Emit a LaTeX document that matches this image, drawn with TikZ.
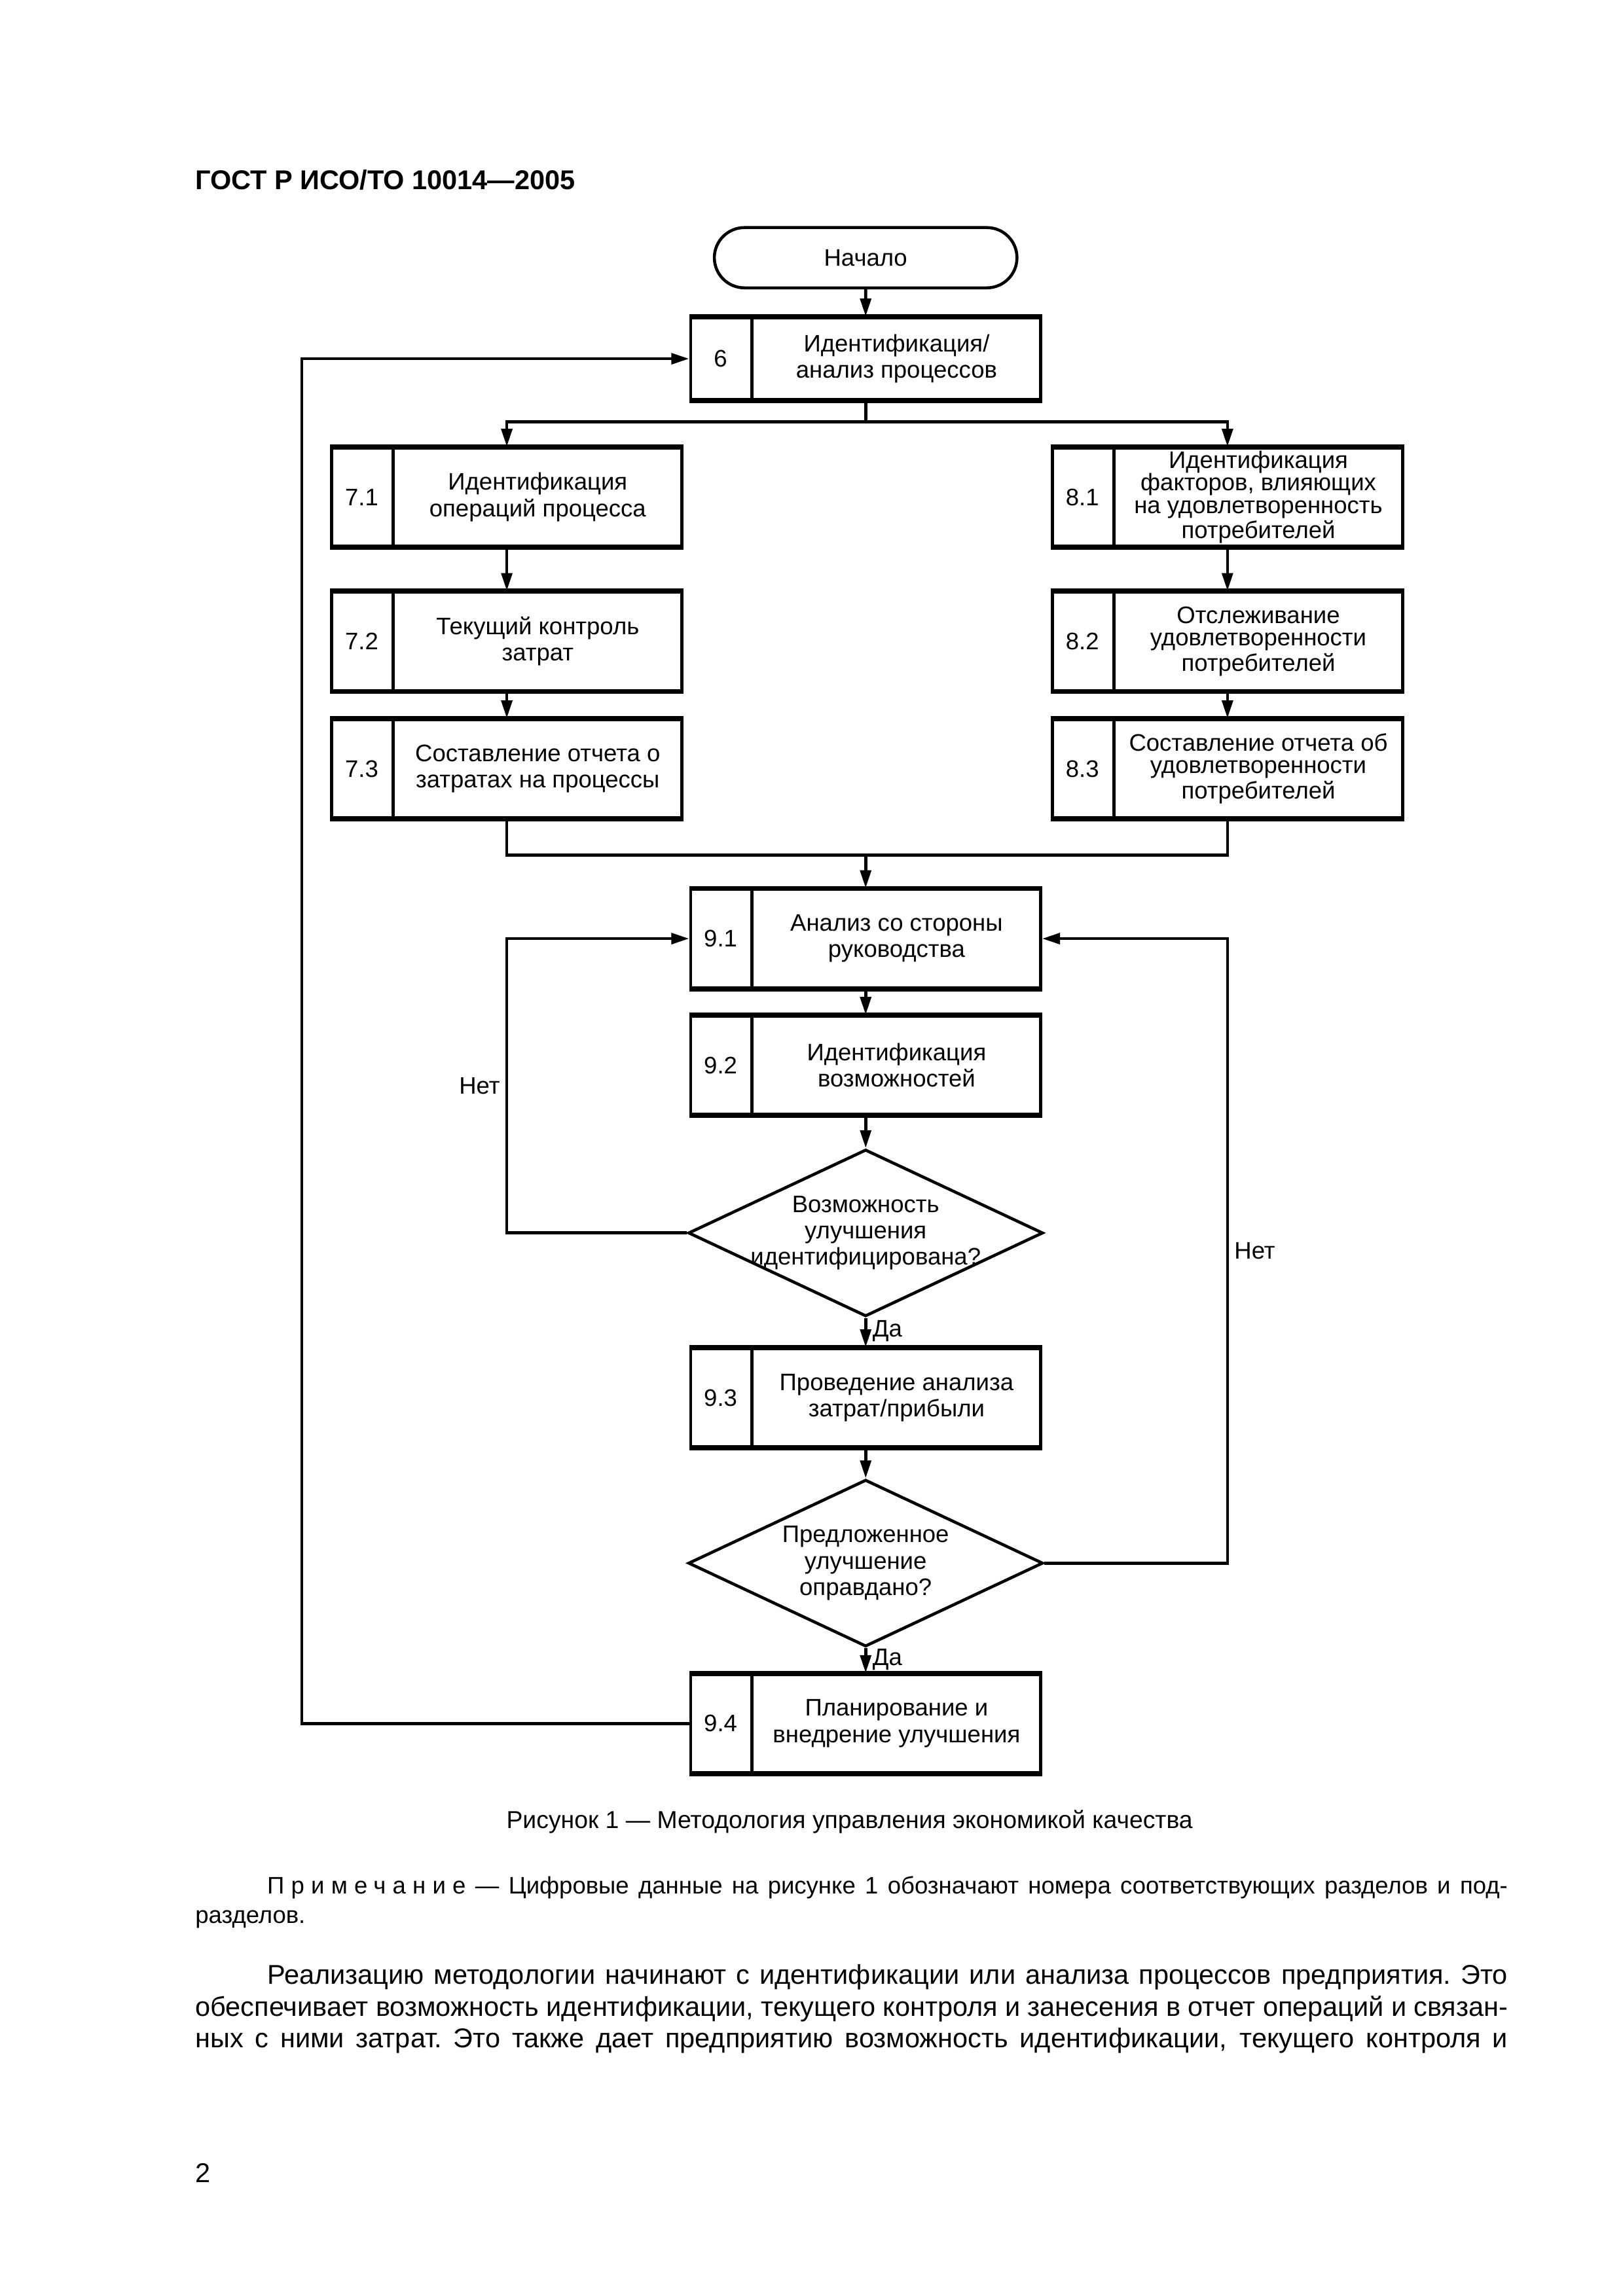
\documentclass[tikz,border=0pt]{standalone}
\usepackage{fontspec}
\setmainfont{Liberation Sans}
\usetikzlibrary{arrows.meta,shapes.geometric,shapes.misc}

\newcommand\boxfont{\fontsize{8.8}{9.7}\selectfont}
% justified prose inside a node
\newcommand\prosesetup{\parindent=0.93cm\rightskip=0pt\hyphenpenalty=10000
  \spaceskip=.278em plus .5em minus .06em\xspaceskip=\spaceskip\indent}

\begin{document}
\begin{tikzpicture}[x=0.018953cm,y=-0.018953cm,
  proc/.style={draw,line width=1.1pt,minimum width=4.53cm,minimum height=1.27cm,inner sep=0pt},
  num/.style={anchor=west,minimum width=0.8cm,inner sep=0pt,font=\boxfont},
  txt/.style={align=center,inner sep=0pt,font=\boxfont},
  tight/.style={font=\fontsize{8.8}{8.3}\selectfont},
  decision/.style={diamond,draw,line width=1.1pt,minimum width=4.59cm,minimum height=2.16cm,inner sep=0pt},
  term/.style={rounded rectangle,draw,line width=1.1pt,minimum width=4.15cm,minimum height=0.78cm,font=\boxfont},
  link/.style={line width=1.1pt},
  arr/.style={line width=1.1pt,-{Triangle[length=2.3mm,width=1.4mm]}},
  lbl/.style={font=\boxfont,inner sep=2pt},
  prose/.style={anchor=north west,inner sep=0pt,text width=16.98cm},
]

% Page
\fill[white] (0,0) rectangle (1108,1568);
\useasboundingbox (0,0) rectangle (1108,1568);
\node[anchor=west,inner sep=0pt,font=\bfseries\fontsize{10}{12}\selectfont] (head) at (133,123) {ГОСТ Р ИСО/ТО 10014—2005};

% Start
\node[term] (start) at (591,176) {Начало};

% Block 6
\node[proc,minimum height=1.06cm] (b6) at (591,245) {};
\node[num] (n6) at (b6.west) {6};
\node[txt] (t6) at ([xshift=0.4cm]b6.center) {Идентификация/\\анализ процессов};

% Left branch 7.x
\node[proc] (b71) at (346,339.5) {};
\node[num] (n71) at (b71.west) {7.1};
\node[txt] (t71) at ([xshift=0.4cm]b71.center) {Идентификация\\операций процесса};
\node[proc] (b72) at (346,438) {};
\node[num] (n72) at (b72.west) {7.2};
\node[txt] (t72) at ([xshift=0.4cm]b72.center) {Текущий контроль\\затрат};
\node[proc] (b73) at (346,525) {};
\node[num] (n73) at (b73.west) {7.3};
\node[txt] (t73) at ([xshift=0.4cm]b73.center) {Составление отчета о\\затратах на процессы};

% Right branch 8.x
\node[proc] (b81) at (838,339.5) {};
\node[num] (n81) at (b81.west) {8.1};
\node[txt,tight] (t81) at ([xshift=0.4cm]b81.center) {Идентификация\\факторов, влияющих\\на удовлетворенность\\потребителей};
\node[proc] (b82) at (838,438) {};
\node[num] (n82) at (b82.west) {8.2};
\node[txt,tight] (t82) at ([xshift=0.4cm]b82.center) {Отслеживание\\удовлетворенности\\потребителей};
\node[proc] (b83) at (838,525) {};
\node[num] (n83) at (b83.west) {8.3};
\node[txt,tight] (t83) at ([xshift=0.4cm]b83.center) {Составление отчета об\\удовлетворенности\\потребителей};

% Review loop 9.x
\node[proc] (b91) at (591,641) {};
\node[num] (n91) at (b91.west) {9.1};
\node[txt] (t91) at ([xshift=0.4cm]b91.center) {Анализ со стороны\\руководства};
\node[proc] (b92) at (591,727.5) {};
\node[num] (n92) at (b92.west) {9.2};
\node[txt] (t92) at ([xshift=0.4cm]b92.center) {Идентификация\\возможностей};
\node[decision] (d1) at (591,842) {};
\node[txt] (d1t) at (d1.center) {Возможность\\улучшения\\идентифицирована?};
\node[proc] (b93) at (591,954.5) {};
\node[num] (n93) at (b93.west) {9.3};
\node[txt] (t93) at ([xshift=0.4cm]b93.center) {Проведение анализа\\затрат/прибыли};
\node[decision] (d2) at (591,1067.5) {};
\node[txt] (d2t) at (d2.center) {Предложенное\\улучшение\\оправдано?};
\node[proc] (b94) at (591,1177) {};
\node[num] (n94) at (b94.west) {9.4};
\node[txt] (t94) at ([xshift=0.4cm]b94.center) {Планирование и\\внедрение улучшения};

% Number cells and heavy top/bottom edges
\foreach \b in {6,71,72,73,81,82,83,91,92,93,94}{
  \draw[line width=1.1pt] (n\b.east |- b\b.north) -- (n\b.east |- b\b.south);
  \draw[line width=1.6pt] (b\b.north west) -- (b\b.north east) (b\b.south west) -- (b\b.south east);
}

% Connectors
\coordinate (split) at (591,288);
\coordinate (merge) at (591,584);
\coordinate (back) at (206,1177);
\draw[arr] (start) -- (b6);
\draw[link] (b6) -- (split);
\draw[arr] (split) -| (b71);
\draw[arr] (split) -| (b81);
\draw[arr] (b71) -- (b72);
\draw[arr] (b72) -- (b73);
\draw[arr] (b81) -- (b82);
\draw[arr] (b82) -- (b83);
\draw[link] (b73) |- (merge);
\draw[link] (b83) |- (merge);
\draw[arr] (merge) -- (b91);
\draw[arr] (b91) -- (b92);
\draw[arr] (b92) -- (d1);
\draw[arr] (d1) -- (b93) node[lbl,pos=0.45,right] {Да};
\draw[arr] (b93) -- (d2);
\draw[arr] (d2) -- (b94) node[lbl,pos=0.45,right] {Да};
\draw[arr] (d1.west) -- (d1.west -| b71) |- (b91.west) node[lbl,pos=0.25,left] {Нет};
\draw[arr] (d2.east) -- (d2.east -| b81) |- (b91.east) node[lbl,pos=0.25,right] {Нет};
\draw[arr] (b94.west) -- (back) |- (b6.west);

% Caption, note and text
\node[inner sep=0pt,font=\fontsize{9}{11}\selectfont] (cap) at (580,1244) {Рисунок 1 — Методология управления экономикой качества};
\node[prose,font=\fontsize{8.8}{10.8}\selectfont] (note) at (133,1281)
  {\prosesetup
   {\addfontfeatures{LetterSpace=28}Примечание} — Цифровые данные на рисунке 1 обозначают номера соответствующих разделов и под-\linebreak
   разделов.\par};
\node[prose,font=\fontsize{10}{11.8}\selectfont] (para) at (133,1341)
  {\prosesetup\parfillskip=0pt
   Реализацию методологии начинают с идентификации или анализа процессов предприятия. Это\linebreak
   обеспечивает возможность идентификации, текущего контроля и занесения в отчет операций и связан-\linebreak
   ных с ними затрат. Это также дает предприятию возможность идентификации, текущего контроля и\par};
\node[anchor=west,inner sep=0pt,font=\fontsize{10}{12}\selectfont] (page) at (133,1484) {2};

\end{tikzpicture}
\end{document}
